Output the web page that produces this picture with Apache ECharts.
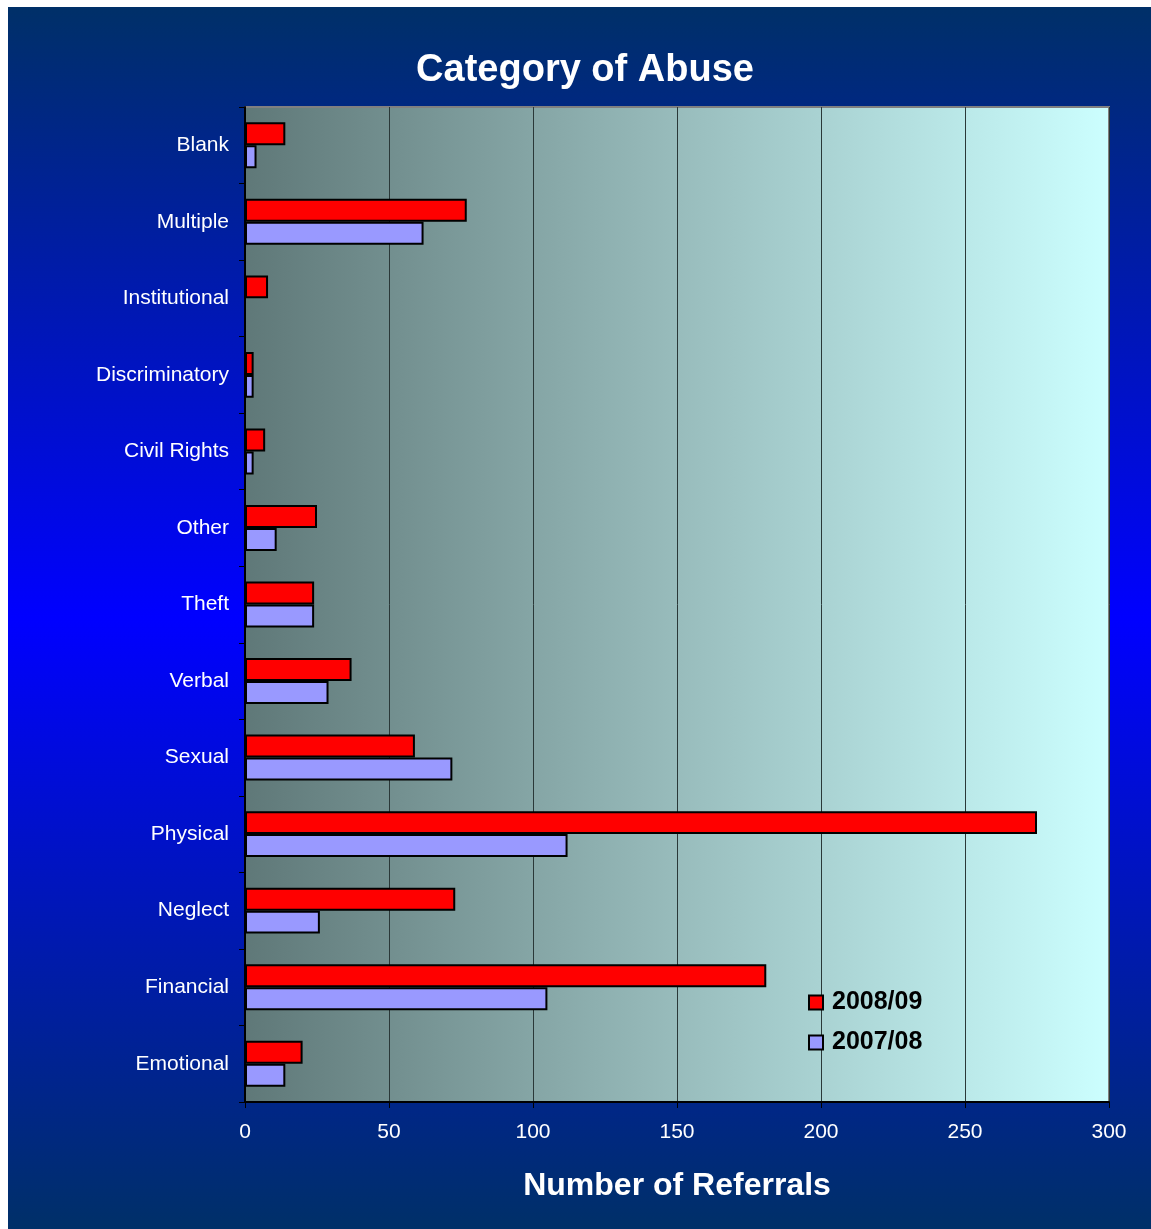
<!DOCTYPE html>
<html>
<head>
<meta charset="utf-8">
<script src="https://cdn.jsdelivr.net/npm/echarts@6/dist/echarts.min.js"></script>
<style>
html,body{margin:0;padding:0;background:#ffffff;}
#chart{position:absolute;left:8px;top:7px;width:1143px;height:1222px;}
</style>
</head>
<body>
<div id="chart"></div>
<script>
const categories = ["Blank","Multiple","Institutional","Discriminatory","Civil Rights","Other","Theft","Verbal","Sexual","Physical","Neglect","Financial","Emotional"];
const series2008 = [14,77,8,3,7,25,24,37,59,275,73,181,20];
const series2007 = [4,62,0,3,3,11,24,29,72,112,26,105,14];
const xTicks = [0,50,100,150,200,250,300];

const chart = echarts.init(document.getElementById('chart'));
const font = '"Liberation Sans", Arial, sans-serif';
chart.setOption({
  animation:false,
  backgroundColor:{type:'linear',x:0,y:0,x2:0,y2:1,colorStops:[
    {offset:0,color:'#003068'},{offset:0.5,color:'#0000ff'},{offset:1,color:'#003068'}]},
  title:{text:'Category of Abuse',left:572,top:40,textAlign:'center',
    textStyle:{color:'#ffffff',fontFamily:font,fontWeight:'bold',fontSize:38}},
  legend:{orient:'vertical',left:800,top:983,padding:0,itemWidth:14,itemHeight:14,itemGap:15,icon:'rect',
    textStyle:{color:'#000000',fontFamily:font,fontWeight:'bold',fontSize:25,padding:[0,0,0,4]},
    data:['2008/09','2007/08']},
  grid:{left:237,top:100,width:864,height:995,show:true,borderColor:'#808080',borderWidth:2,
    backgroundColor:{type:'linear',x:0,y:0,x2:1,y2:0,colorStops:[
      {offset:0,color:'#5f7878'},{offset:0.5,color:'#98bcbc'},{offset:1,color:'#ccffff'}]},
    containLabel:false},
  xAxis:{type:'value',min:0,max:300,interval:50,
    name:'Number of Referrals',nameLocation:'middle',nameGap:68,
    nameTextStyle:{color:'#ffffff',fontFamily:font,fontWeight:'bold',fontSize:32},
    axisLine:{show:true,lineStyle:{color:'#000000',width:2}},
    axisTick:{show:true,length:6,lineStyle:{color:'#000000'}},
    axisLabel:{color:'#ffffff',fontFamily:font,fontSize:21,margin:20,
      formatter:v=>xTicks.includes(v)?String(v):''},
    splitLine:{show:true,lineStyle:{color:'#2a3838',width:1}}},
  yAxis:{type:'category',data:categories,inverse:true,
    axisLine:{show:true,lineStyle:{color:'#000000',width:2}},
    axisTick:{show:true,length:6,inside:false,lineStyle:{color:'#000000'}},
    axisLabel:{color:'#ffffff',fontFamily:font,fontSize:21,margin:16},
    splitLine:{show:false}},
  series:[
    {name:'2008/09',type:'bar',data:series2008,barGap:'0%',barCategoryGap:'40%',
      itemStyle:{color:'#ff0000',borderColor:'#000000',borderWidth:2}},
    {name:'2007/08',type:'bar',data:series2007,barGap:'0%',barCategoryGap:'40%',
      itemStyle:{color:'#9999ff',borderColor:'#000000',borderWidth:2}}
  ]
});
</script>
</body>
</html>
